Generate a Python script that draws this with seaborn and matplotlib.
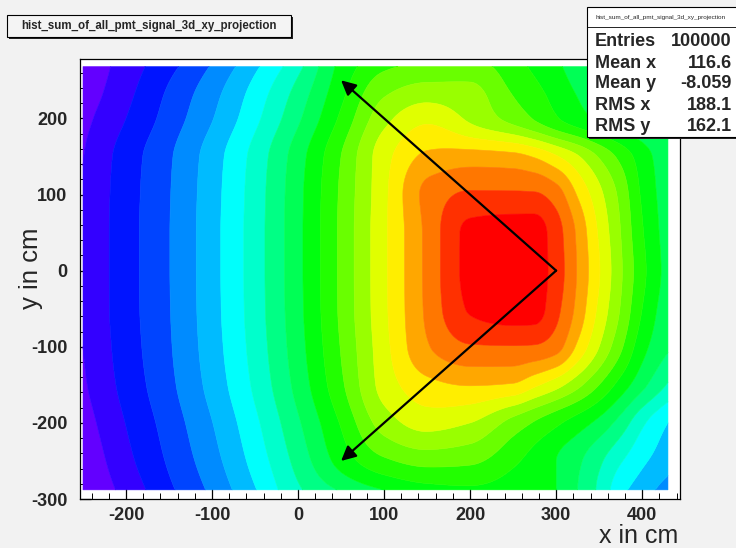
import colorsys

import matplotlib
matplotlib.use("Agg")
import matplotlib.pyplot as plt
import numpy as np
import seaborn as sns
from matplotlib.patches import Rectangle
from matplotlib.ticker import MultipleLocator

sns.set_theme(style="white")
plt.rcParams["font.family"] = ["Liberation Sans", "DejaVu Sans"]
plt.rcParams["axes.unicode_minus"] = False

# ---------------------------------------------------------------------------
# Summed PMT signal, projected on the x-y plane, in contour-level units (0..20)
# nodes of the projection grid (cm)
x_cm = [-250, -200, -150, -100, -50, 0, 50, 100, 150, 200, 250, 275, 300, 325, 350, 375, 400, 430]
y_cm = [-288, -250, -200, -150, -100, -50, 0, 50, 100, 150, 200, 235, 268]

sig_y_m288 = [0.05, 1.33, 2.8, 4.23, 5.93, 7.84, 9.1, 10.0, 10.6, 10.8, 10.5, 10.3, 10.0, 9.0, 7.8, 6.3, 5.5, 4.5]
sig_y_m250 = [0.18, 1.7, 3.14, 4.61, 6.37, 8.36, 10.4, 11.8, 12.35, 12.2, 11.2, 10.6, 10.0, 9.2, 8.2, 7.1, 6.2, 5.4]
sig_y_m200 = [0.52, 2.03, 3.44, 4.97, 6.78, 8.86, 11.1, 13.47, 14.4, 14.0, 12.6, 11.9, 11.2, 10.5, 9.7, 8.6, 7.2, 6.0]
sig_y_m150 = [0.85, 2.34, 3.75, 5.36, 7.2, 9.36, 11.8, 14.4, 15.7, 16.05, 15.9, 15.2, 14.4, 13.3, 12.0, 10.6, 9.3, 7.9]
sig_y_m100 = [1.0, 2.49, 3.89, 5.54, 7.4, 9.59, 12.06, 14.65, 16.9, 17.9, 17.95, 17.9, 17.4, 15.8, 14.0, 12.2, 10.38, 9.1]
sig_y_m50 = [1.08, 2.56, 3.95, 5.62, 7.5, 9.7, 12.2, 14.78, 17.2, 19.1, 19.5, 19.4, 18.3, 16.7, 14.77, 12.93, 11.0, 9.4]
sig_y_0 = [1.09, 2.57, 3.97, 5.64, 7.52, 9.73, 12.22, 14.8, 17.25, 19.3, 19.7, 19.5, 18.55, 16.92, 15.07, 13.15, 11.3, 9.6]
sig_y_50 = [1.09, 2.57, 3.97, 5.64, 7.52, 9.73, 12.22, 14.8, 17.25, 19.25, 19.5, 19.45, 18.45, 16.8, 14.85, 13.0, 11.1, 9.55]
sig_y_100 = [1.06, 2.54, 3.94, 5.6, 7.48, 9.7, 12.17, 14.75, 17.3, 18.15, 18.15, 18.12, 17.5, 15.9, 14.3, 12.7, 10.85, 9.5]
sig_y_150 = [0.97, 2.46, 3.86, 5.5, 7.36, 9.55, 12.0, 14.6, 16.2, 16.45, 16.3, 15.9, 15.1, 14.1, 12.9, 11.7, 10.5, 9.3]
sig_y_200 = [0.7, 2.0, 3.42, 4.94, 6.74, 8.82, 11.2, 13.67, 14.75, 13.8, 12.6, 11.9, 11.1, 10.4, 9.8, 9.3, 8.9, 8.5]
sig_y_235 = [0.4, 1.7, 3.14, 4.61, 6.37, 8.36, 10.7, 12.8, 13.45, 13.3, 11.9, 11.3, 10.6, 9.9, 9.3, 8.8, 8.35, 7.95]
sig_y_268 = [0.2, 1.45, 2.7, 4.1, 5.8, 7.72, 10.3, 11.8, 12.25, 12.35, 11.4, 10.8, 10.2, 9.5, 8.9, 8.4, 7.9, 7.5]

# statistics box
stat_title = "hist_sum_of_all_pmt_signal_3d_xy_projection"
stat_names = ["Entries", "Mean x", "Mean y", "RMS x", "RMS y"]
stat_values = ["100000", "116.6", "-8.059", "188.1", "162.1"]

# arrows from the apex towards the detector corners (cm)
arrow_start = (300, 0)
arrow_ends = [(50, 250), (50, -250)]

x_ticks = [-200, -100, 0, 100, 200, 300, 400]
y_ticks = [-300, -200, -100, 0, 100, 200]
# ---------------------------------------------------------------------------

W, H = 736, 548
fig = plt.figure(figsize=(W / 100, H / 100), dpi=100)
fig.patch.set_facecolor("#f2f2f2")


def fx(px):
    return px / W


def fy(py):
    return 1 - py / H


def _end_slope(h0, h1, d0, d1):
    d = ((2 * h0 + h1) * d0 - h0 * d1) / (h0 + h1)
    if np.sign(d) != np.sign(d0):
        return 0.0
    if np.sign(d0) != np.sign(d1) and abs(d) > abs(3 * d0):
        return 3 * d0
    return d


def pchip(xn, yn, xf):
    """Shape-preserving piecewise cubic through (xn, yn), evaluated at xf."""
    xn = np.asarray(xn, float)
    yn = np.asarray(yn, float)
    n = len(xn)
    h = np.diff(xn)
    dl = np.diff(yn) / h
    m = np.zeros(n)
    for k in range(1, n - 1):
        if dl[k - 1] * dl[k] > 0:
            w1 = 2 * h[k] + h[k - 1]
            w2 = h[k] + 2 * h[k - 1]
            m[k] = (w1 + w2) / (w1 / dl[k - 1] + w2 / dl[k])
    m[0] = _end_slope(h[0], h[1], dl[0], dl[1])
    m[-1] = _end_slope(h[-1], h[-2], dl[-1], dl[-2])
    k = np.clip(np.searchsorted(xn, xf) - 1, 0, n - 2)
    t = (xf - xn[k]) / h[k]
    h00 = 2 * t ** 3 - 3 * t ** 2 + 1
    h10 = t ** 3 - 2 * t ** 2 + t
    h01 = -2 * t ** 3 + 3 * t ** 2
    h11 = t ** 3 - t ** 2
    return h00 * yn[k] + h10 * h[k] * m[k] + h01 * yn[k + 1] + h11 * h[k] * m[k + 1]


ax = fig.add_axes([fx(80), fy(499), fx(680) - fx(80), fy(59) - fy(499)])
ax.set_facecolor("white")

Z = np.vstack([sig_y_m288, sig_y_m250, sig_y_m200, sig_y_m150, sig_y_m100, sig_y_m50,
               sig_y_0, sig_y_50, sig_y_100, sig_y_150, sig_y_200, sig_y_235, sig_y_268])

# smooth surface through the grid nodes for the contour fill
xf = np.linspace(x_cm[0], x_cm[-1], 340)
yf = np.linspace(y_cm[0], y_cm[-1], 300)
Zx = np.array([pchip(x_cm, row, xf) for row in Z])
Zf = np.array([pchip(y_cm, Zx[:, j], yf) for j in range(len(xf))]).T
Zf = np.clip(Zf, 0.02, 19.98)
XF, YF = np.meshgrid(xf, yf)

# 20-level rainbow palette (hue 280 -> 0 deg, full saturation)
pal_idx = [int((i + 0.99) * 50 / 20) for i in range(20)]
hues = [280 - (j + 1) * 280 / 50 for j in pal_idx]
band_colors = sns.color_palette([colorsys.hls_to_rgb(h / 360, 0.5, 1.0) for h in hues])
levels = np.arange(0, 21)

cs = ax.contourf(XF, YF, Zf, levels=levels, colors=band_colors, antialiased=True)
cs.set_edgecolor("face")
cs.set_linewidth(0.4)

for end in arrow_ends:
    ax.annotate("", xy=end, xytext=arrow_start,
                arrowprops=dict(arrowstyle="-|>", color="black", lw=1.6,
                                mutation_scale=22, shrinkA=0, shrinkB=0))

ax.set_xlim(-253.5, 444)
ax.set_ylim(-300, 278)
ax.set_xticks(x_ticks)
ax.set_yticks(y_ticks)
ax.xaxis.set_minor_locator(MultipleLocator(20))
ax.yaxis.set_minor_locator(MultipleLocator(20))
ax.tick_params(axis="both", which="both", direction="in", color="black",
               bottom=True, left=True, top=False, right=False)
ax.tick_params(axis="x", which="major", length=8, width=0.9, pad=6)
ax.tick_params(axis="x", which="minor", length=4, width=0.7)
ax.tick_params(axis="y", which="major", length=8, width=0.9, pad=9)
ax.tick_params(axis="y", which="minor", length=4, width=0.7)
for lab in ax.get_xticklabels() + ax.get_yticklabels():
    lab.set_fontweight("bold")
    lab.set_fontsize(13)
for side, sp in ax.spines.items():
    sp.set_color("black")
    sp.set_linewidth(0.9)
    sp.set_visible(True)

fig.text(fx(678), fy(543), "x in cm", ha="right", va="baseline", fontsize=18)
fig.text(fx(31), fy(268), "y in cm", rotation=90, ha="center", va="center", fontsize=18.5)

# title box with shadow
tb = (7, 15, 291, 37)
fig.patches.append(Rectangle((fx(tb[0] + 2), fy(tb[3] + 2)), fx(tb[2] - tb[0]), fy(0) - fy(tb[3] - tb[1]),
                             transform=fig.transFigure, facecolor="#222222", edgecolor="none", zorder=5))
fig.patches.append(Rectangle((fx(tb[0]), fy(tb[3])), fx(tb[2] - tb[0]), fy(0) - fy(tb[3] - tb[1]),
                             transform=fig.transFigure, facecolor="#f4f4f4", edgecolor="black",
                             linewidth=0.8, zorder=6))
fig.text(fx((tb[0] + tb[2]) / 2), fy(26), stat_title, ha="center", va="center",
         fontsize=8.3, fontweight="bold", zorder=7)

# statistics box with shadow
sb = (587, 7, 740, 137)
fig.patches.append(Rectangle((fx(sb[0] + 2), fy(sb[3] + 2)), fx(sb[2] - sb[0]), fy(0) - fy(sb[3] - sb[1]),
                             transform=fig.transFigure, facecolor="#222222", edgecolor="none", zorder=5))
fig.patches.append(Rectangle((fx(sb[0]), fy(sb[3])), fx(sb[2] - sb[0]), fy(0) - fy(sb[3] - sb[1]),
                             transform=fig.transFigure, facecolor="white", edgecolor="black",
                             linewidth=0.8, zorder=6))
fig.lines.append(plt.Line2D([fx(sb[0]), fx(736)], [fy(27), fy(27)], transform=fig.transFigure,
                            color="black", linewidth=0.6, zorder=7))
fig.text(fx(661), fy(17), stat_title, ha="center", va="center", fontsize=4.6, zorder=7)
row_y = [42, 63, 84, 105.5, 126.5]
for name, val, ry in zip(stat_names, stat_values, row_y):
    fig.text(fx(595), fy(ry), name, ha="left", va="center", fontsize=13, fontweight="bold", zorder=7)
    fig.text(fx(732), fy(ry), val, ha="right", va="center", fontsize=13, fontweight="bold", zorder=7)

fig.savefig("out.png", dpi=100, facecolor=fig.get_facecolor())
